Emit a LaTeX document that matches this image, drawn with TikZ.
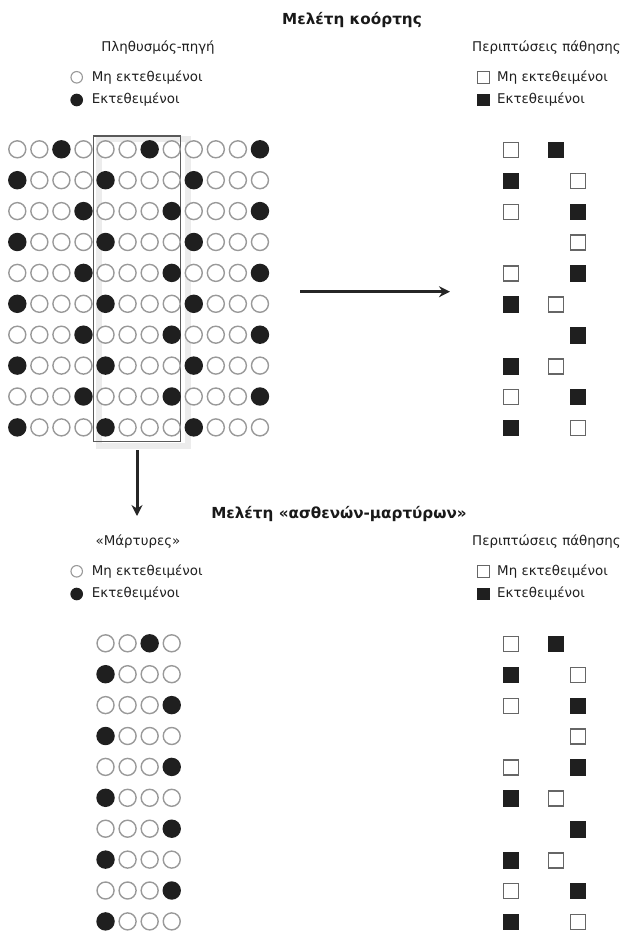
\documentclass[tikz,border=0pt]{standalone}
\usepackage{fontspec}
\setmainfont{DejaVu Sans}
\usepackage{tikz}
\usetikzlibrary{arrows.meta, backgrounds}

\begin{document}
\begin{tikzpicture}[x=1pt, y=-1pt,
    lbl/.style={font=\fontsize{13.4}{15}\selectfont, text=black!88, inner sep=0pt},
    head/.style={font=\fontsize{15.2}{17}\selectfont\bfseries, text=black!90, inner sep=0pt},
    opencirc/.style={circle, draw=gray!80, fill=white, line width=1.4pt, minimum size=17pt, inner sep=0pt},
    fullcirc/.style={circle, draw=black!88, fill=black!88, line width=1.4pt, minimum size=17pt, inner sep=0pt},
    opensq/.style={rectangle, draw=black!60, fill=white, line width=1.5pt, minimum size=15pt, inner sep=0pt},
    fullsq/.style={rectangle, draw=black!88, fill=black!88, line width=1.5pt, minimum size=15pt, inner sep=0pt},
    legsize/.style={minimum size=11.5pt, line width=1.1pt},
    selbox/.style={draw=black!65, line width=1.2pt, minimum width=87pt, minimum height=305.7pt, inner sep=0pt},
    arr/.style={-{Stealth[length=11pt, width=11pt]}, line width=3pt, black!85},
]
\useasboundingbox (0,0) rectangle (623,934);

% Headings
\node[head] (kohead) at (352,20) {Μελέτη κοόρτης};
\node[lbl] (kopop) at (158,48) {Πληθυσμός-πηγή};
\node[lbl, anchor=west] (kocases) at (472,48) {Περιπτώσεις πάθησης};
\node[head] (cchead) at (339,514) {Μελέτη «ασθενών-μαρτύρων»};
\node[lbl] (ccwit) at (138,542) {«Μάρτυρες»};
\node[lbl, anchor=west] (cccases) at (472,542) {Περιπτώσεις πάθησης};

% Legends
\foreach \sec/\yo in {ko/0, cc/494} {
  \node[opencirc, legsize] (\sec lo) at (76.7,{77.3+\yo}) {};
  \node[lbl, anchor=west] (\sec lot) at (91.7,{77.3+\yo}) {Μη εκτεθειμένοι};
  \node[fullcirc, legsize] (\sec lf) at (76.7,{100+\yo}) {};
  \node[lbl, anchor=west] (\sec lft) at (91.7,{100+\yo}) {Εκτεθειμένοι};
  \node[opensq, legsize] (\sec so) at (483.3,{77.3+\yo}) {};
  \node[lbl, anchor=west] (\sec sot) at (497,{77.3+\yo}) {Μη εκτεθειμένοι};
  \node[fullsq, legsize] (\sec sf) at (483.3,{100+\yo}) {};
  \node[lbl, anchor=west] (\sec sft) at (497,{100+\yo}) {Εκτεθειμένοι};
}

% Selected columns
\node[selbox] (sel) at (137,288.85) {};
\begin{scope}[on background layer]
  \draw[gray!15, line width=6pt] ([xshift=6.5pt, yshift=-3.5pt]sel.north west) rectangle ([xshift=6.5pt, yshift=-3.5pt]sel.south east);
\end{scope}

% Circles (population / witnesses)
\foreach \sec/\yo/\cmin/\cmax in {ko/0/1/12, cc/494/5/8} {
  \foreach \r/\fl in {1/{3,7,12}, 2/{1,5,9}, 3/{4,8,12}, 4/{1,5,9}, 5/{4,8,12},
                      6/{1,5,9}, 7/{4,8,12}, 8/{1,5,9}, 9/{4,8,12}, 10/{1,5,9}} {
    \foreach \c in {\cmin,...,\cmax} {
      \gdef\cst{opencirc}
      \foreach \f in \fl {\ifnum\c=\f\relax\gdef\cst{fullcirc}\fi}
      \node[\cst] (\sec c-\r-\c) at ({17.3+22.06*(\c-1)}, {149.3+\yo+30.9*(\r-1)}) {};
    }
  }
}

% Squares (cases)
\foreach \sec/\yo in {ko/0, cc/494} {
  \foreach \r/\x/\s in {1/511/opensq, 1/556/fullsq, 2/511/fullsq, 2/578/opensq,
                        3/511/opensq, 3/578/fullsq, 4/578/opensq, 5/511/opensq,
                        5/578/fullsq, 6/511/fullsq, 6/556/opensq, 7/578/fullsq,
                        8/511/fullsq, 8/556/opensq, 9/511/opensq, 9/578/fullsq,
                        10/511/fullsq, 10/578/opensq}
    \node[\s] (\sec sq-\r-\x) at (\x, {150+\yo+30.9*(\r-1)}) {};
}

% Arrows
\coordinate (rstart) at (300,291.7);
\coordinate (rend) at (450,291.7);
\coordinate (dend) at (137,516);
\draw[arr] (rstart) -- (rend);
\draw[arr] ([yshift=-8pt]sel.south) -- (dend);

\end{tikzpicture}
\end{document}
